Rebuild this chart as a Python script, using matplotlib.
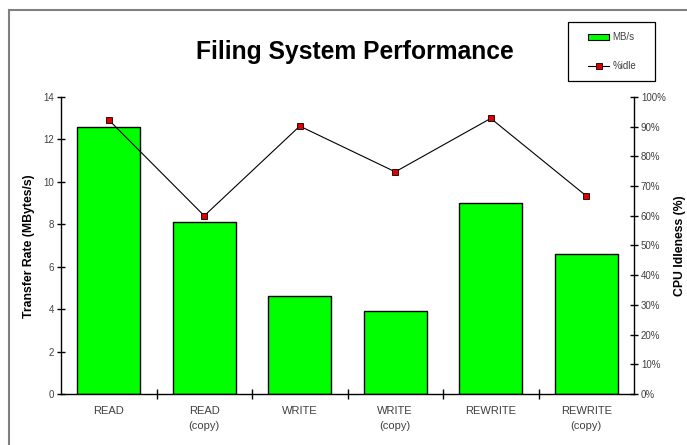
import matplotlib
matplotlib.use("Agg")
import matplotlib.pyplot as plt
from matplotlib.lines import Line2D
from matplotlib.patches import Patch, Rectangle

categories = ["READ", "READ\n(copy)", "WRITE", "WRITE\n(copy)", "REWRITE", "REWRITE\n(copy)"]
mbs = [12.6, 8.1, 4.6, 3.9, 9.0, 6.6]
idle = [92.3, 60.0, 90.2, 74.8, 92.8, 66.7]
left_ticks = [0, 2, 4, 6, 8, 10, 12, 14]
right_ticks = [0, 10, 20, 30, 40, 50, 60, 70, 80, 90, 100]

plt.rcParams['font.family'] = ['Liberation Sans', 'DejaVu Sans']

fig = plt.figure(figsize=(6.87, 4.45), dpi=100)
W, H = 687, 445
ax = fig.add_axes([61 / W, 1 - 394 / H, (634 - 61) / W, (394 - 97) / H])
x = list(range(len(categories)))
ax.bar(x, mbs, width=0.66, color="#00ff00", edgecolor="black", linewidth=1.0, zorder=2)
ax.set_xlim(-0.5, len(categories) - 0.5)
ax.set_ylim(0, 14)
ax.set_yticks(left_ticks)
ax.set_yticklabels([str(t) for t in left_ticks])
ax.set_xticks([i + 0.5 for i in range(len(categories) - 1)])
ax.set_xticklabels([])
ax.set_xticks(x, minor=True)
ax.set_xticklabels(categories, minor=True, linespacing=1.6)
ax.tick_params(axis='x', which='minor', length=0, pad=9, labelsize=8, labelcolor="#404040")
ax.tick_params(axis='x', which='major', direction='inout', length=7, width=1)
ax.tick_params(axis='y', direction='inout', length=6, width=1, labelsize=7, labelcolor="#404040", pad=2)
for s in ['top', 'right']:
    ax.spines[s].set_visible(False)
for s in ['left', 'bottom']:
    ax.spines[s].set_linewidth(1.0)

ax2 = ax.twinx()
ax2.plot(x, idle, color="black", linewidth=0.8, marker='s', markersize=4,
         markerfacecolor="#e00000", markeredgecolor="black", markeredgewidth=0.6, zorder=3)
ax2.set_ylim(0, 100)
ax2.set_yticks(right_ticks)
ax2.set_yticklabels([f"{t}%" for t in right_ticks])
ax2.tick_params(axis='y', direction='inout', length=6, width=1, labelsize=7, labelcolor="#404040", pad=2)
for s in ['top', 'left', 'bottom']:
    ax2.spines[s].set_visible(False)
ax2.spines['right'].set_linewidth(1.0)

fig.text(29 / W, 1 - 246 / H, "Transfer Rate (MBytes/s)", fontsize=8.8, fontweight='bold',
         rotation=90, ha='center', va='center')
fig.text(680 / W, 1 - 246 / H, "CPU Idleness (%)", fontsize=8.8, fontweight='bold',
         rotation=90, ha='center', va='center')

fig.text(355 / W, 1 - 52 / H, "Filing System Performance", fontsize=17.7, fontweight='bold',
         ha='center', va='center')

# outer frame (top and left edges visible)
fig.add_artist(Line2D([9 / W, 9 / W], [0, 1 - 10 / H], transform=fig.transFigure, color="#808080", lw=1.5))
fig.add_artist(Line2D([9 / W, 1], [1 - 10 / H, 1 - 10 / H], transform=fig.transFigure, color="#808080", lw=1.5))

# legend box
fig.add_artist(Rectangle((568 / W, 1 - 81 / H), 87 / W, 59 / H, transform=fig.transFigure,
                         facecolor="white", edgecolor="black", linewidth=0.9, zorder=5))
handles = [Patch(facecolor="#00ff00", edgecolor="black", linewidth=0.8),
           Line2D([0], [0], color="black", lw=0.8, marker='s', markersize=4,
                  markerfacecolor="#e00000", markeredgecolor="black", markeredgewidth=0.6)]
leg = fig.legend(handles, ["MB/s", "%idle"], loc='upper left',
                 bbox_to_anchor=(588 / W, 1 - 32.5 / H), frameon=False,
                 fontsize=7, labelspacing=1.95, handlelength=2.2, handleheight=0.65,
                 borderpad=0, handletextpad=0.3, borderaxespad=0)
leg.set_zorder(6)
for t in leg.get_texts():
    t.set_color("#404040")

fig.savefig("out.png", dpi=100)
